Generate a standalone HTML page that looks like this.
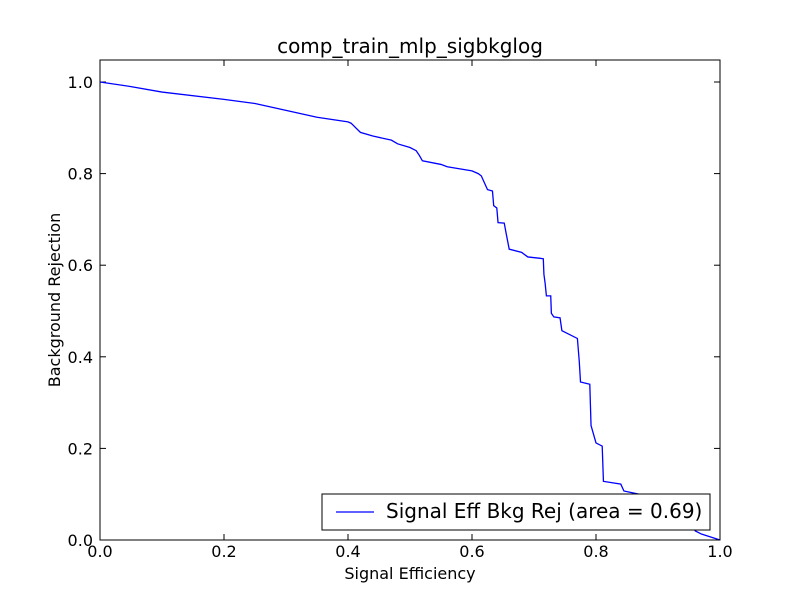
<!DOCTYPE html>
<html><head><meta charset="utf-8"><style>
body{margin:0;background:#fff}
svg text{font-family:"DejaVu Sans","Liberation Sans",sans-serif;fill:#000}
</style></head><body>
<svg id="chart" width="800" height="600">
<rect width="800" height="600" fill="#fff"/>
<text x="410" y="53" font-size="20" text-anchor="middle">comp_train_mlp_sigbkglog</text>
<text x="410" y="579" font-size="16" text-anchor="middle">Signal Efficiency</text>
<text transform="translate(60,300) rotate(-90)" font-size="16" text-anchor="middle">Background Rejection</text>
<g id="ticks"></g>
<polyline id="curve" fill="none" stroke="#0000ff" stroke-width="1.3"/>
<rect x="100" y="60" width="620" height="480" fill="none" stroke="#000" stroke-width="1"/>
<g>
<rect x="322" y="494" width="388" height="36" fill="#fff" stroke="#000" stroke-width="1"/>
<line x1="336" y1="512" x2="374" y2="512" stroke="#0000ff" stroke-width="1.3"/>
<text x="386" y="518" font-size="20">Signal Eff Bkg Rej (area = 0.69)</text>
</g>
</svg>
<script>
const xTicks=[0,0.2,0.4,0.6,0.8,1.0];
const yTicks=[0,0.2,0.4,0.6,0.8,1.0];
const sigEff=[0,0.05,0.1,0.2,0.25,0.3,0.35,0.4,0.405,0.42,0.44,0.47,0.48,0.5,0.51,0.515,0.52,0.55,0.56,0.6,0.61,0.615,0.62,0.625,0.633,0.635,0.64,0.642,0.652,0.655,0.66,0.68,0.69,0.71,0.715,0.716,0.718,0.72,0.727,0.728,0.732,0.742,0.745,0.77,0.773,0.775,0.79,0.792,0.8,0.81,0.812,0.84,0.845,0.88,0.9,0.95,0.96,0.97,1.0];
const bkgRej=[1.0,0.99,0.978,0.962,0.953,0.938,0.923,0.913,0.91,0.89,0.882,0.873,0.865,0.857,0.85,0.84,0.828,0.82,0.815,0.806,0.8,0.795,0.78,0.765,0.762,0.73,0.725,0.693,0.692,0.67,0.635,0.628,0.618,0.615,0.614,0.58,0.56,0.533,0.533,0.495,0.487,0.485,0.457,0.44,0.39,0.345,0.34,0.25,0.212,0.205,0.128,0.122,0.107,0.097,0.09,0.05,0.02,0.013,0];
const X=v=>100+v*620, Y=v=>540-v*458;
const ns='http://www.w3.org/2000/svg';
const g=document.getElementById('ticks');
function mk(t,a){const e=document.createElementNS(ns,t);for(const k in a)e.setAttribute(k,a[k]);g.appendChild(e);return e;}
xTicks.forEach(v=>{
  mk('line',{x1:X(v),x2:X(v),y1:540,y2:534,stroke:'#000'});
  mk('line',{x1:X(v),x2:X(v),y1:60,y2:66,stroke:'#000'});
  const t=mk('text',{x:X(v),y:557,'font-size':16,'text-anchor':'middle'});
  t.textContent=v.toFixed(1);
  
  
});
yTicks.forEach(v=>{
  mk('line',{x1:100,x2:106,y1:Y(v),y2:Y(v),stroke:'#000'});
  mk('line',{x1:720,x2:714,y1:Y(v),y2:Y(v),stroke:'#000'});
  const t=mk('text',{x:93,y:Y(v)+6,'font-size':16,'text-anchor':'end'});
  t.textContent=v.toFixed(1);
  
  
});
document.getElementById('curve').setAttribute('points',sigEff.map((v,i)=>X(v)+','+Y(bkgRej[i])).join(' '));
</script>
</body></html>
